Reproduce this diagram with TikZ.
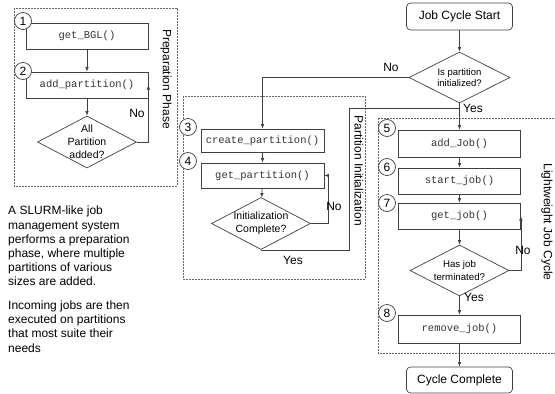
\documentclass[tikz,border=0pt]{standalone}
\usepackage{fontspec}
\setmainfont{Liberation Sans}
\setmonofont{Liberation Mono}
\usetikzlibrary{arrows.meta,shapes.geometric}
\tikzset{
	proc/.style={draw=black!75, line width=0.7pt, minimum width=122pt, minimum height=26pt, inner sep=0pt, text=black!80, font=\ttfamily\fontsize{10.5}{12}\selectfont},
	term/.style={proc, rounded corners=4pt, minimum width=106pt, text=black, font=\fontsize{12}{14}\selectfont},
	decide/.style={diamond, draw=black!75, line width=0.7pt, minimum width=99pt, minimum height=52pt, inner sep=0pt},
	dectext/.style={align=center, inner sep=0pt, font=\fontsize{10.5}{13}\selectfont},
	num/.style={circle, draw=black!75, fill=white, line width=0.7pt, minimum size=17pt, inner sep=0pt, font=\fontsize{12}{12}\selectfont},
	phase/.style={draw=black!60, dash pattern=on 2pt off 1pt, line width=0.5pt},
	flow/.style={draw=black!75, line width=0.7pt, -{Latex[length=4.5pt,width=3.5pt]}},
	link/.style={draw=black!75, line width=0.7pt},
	tag/.style={inner sep=0pt, font=\fontsize{12}{14}\selectfont}
}

\begin{document}
\begin{tikzpicture}[x=1pt, y=-1pt]
			%%%%% START %%%%%
			\useasboundingbox (0, 0) rectangle (555, 394);
			
			% dashed phase frames
			\draw[phase] (14, 8) rectangle (177, 186);
			\draw[phase] (183, 96) rectangle (365, 279);
			\draw[phase] (378, 118) rectangle (600, 353);
			\node[tag, rotate=-90] (prepLbl) at (166, 79) {Preparation Phase};
			\node[tag, rotate=-90] (initLbl) at (359, 171) {Partition Initialization};
			\node[tag, rotate=-90] (cycleLbl) at (547, 222) {Lightweight Job Cycle};
			
			% preparation phase
			\node[proc] (getBGL) at (87, 36) {get\_BGL()};
			\node[proc] (addPart) at (87, 85) {add\_partition()};
			\node[decide] (allAdded) at (87, 142) {};
			\node[dectext] at (allAdded) {All\\Partition\\added?};
			
			% partition initialization
			\node[proc, minimum width=123pt, minimum height=23pt] (createPart) at (262.5, 140.5) {create\_partition()};
			\node[proc, minimum width=123pt, minimum height=25pt] (getPart) at (262.5, 175.5) {get\_partition()};
			\node[decide] (initDone) at (261, 223.5) {};
			\node[dectext] at (initDone) {Initialization\\Complete?};
			
			% job cycle
			\node[term, minimum height=27pt] (cycleStart) at (459.5, 16.5) {Job Cycle Start};
			\node[decide, minimum width=101pt, minimum height=51pt] (isInit) at (459.5, 77.5) {};
			\node[dectext, font=\fontsize{9.5}{11.5}\selectfont] at (isInit) {Is partition\\initialized?};
			\coordinate (merge) at (459.5, 108);
			\node[proc, minimum height=27pt] (addJob) at (459.5, 143.5) {add\_Job()};
			\node[proc] (startJob) at (459.5, 181) {start\_job()};
			\node[proc] (getJob) at (459.5, 216) {get\_job()};
			\node[decide, minimum height=51pt] (jobDone) at (459.5, 270.5) {};
			\node[dectext, font=\fontsize{9.7}{13}\selectfont] at (jobDone) {Has job\\terminated?};
			\node[proc, minimum height=28pt] (removeJob) at (459.5, 329) {remove\_job()};
			\node[term] (cycleEnd) at (459.5, 380) {Cycle Complete};
			
			% connectors
			\draw[flow] (getBGL) -- (addPart);
			\draw[flow] (addPart) -- (allAdded);
			\draw[flow] (allAdded.east) -| (addPart.east);
			\node[tag] (noA) at (137, 113) {No};
			
			\draw[flow] (isInit.west) -| (createPart.north);
			\node[tag] (noB) at (391, 67) {No};
			\draw[flow] (createPart) -- (getPart);
			\draw[flow] (getPart) -- (initDone);
			\draw[flow] (initDone.east) -- ++(17, 0) |- (getPart.east);
			\node[tag] (noC) at (334, 206) {No};
			\draw[link] (initDone.south) -- ++(88, 0) |- (merge);
			\node[tag] (yesC) at (293, 260) {Yes};
			
			\draw[flow] (cycleStart) -- (isInit);
			\draw[flow] (isInit.south) -- (addJob.north);
			\node[tag] (yesB) at (473, 108) {Yes};
			\draw[flow] (addJob) -- (startJob);
			\draw[flow] (startJob) -- (getJob);
			\draw[flow] (getJob) -- (jobDone);
			\draw[flow] (jobDone.east) -| (getJob.east);
			\node[tag] (noD) at (523, 250) {No};
			\draw[flow] (jobDone) -- (removeJob);
			\node[tag] (yesD) at (474, 297) {Yes};
			\draw[flow] (removeJob) -- (cycleEnd);
			
			% step numbers
			\node[num] (n1) at (23, 21) {1};
			\node[num] (n2) at (23, 71) {2};
			\node[num] (n3) at (188, 127) {3};
			\node[num] (n4) at (188, 161) {4};
			\node[num] (n5) at (387, 128) {5};
			\node[num] (n6) at (387, 167) {6};
			\node[num] (n7) at (387, 203) {7};
			\node[num] (n8) at (387, 313) {8};
			
			% description
			\node[anchor=north west, align=left, inner sep=0pt, font=\fontsize{12}{14.2}\selectfont] (about) at (8, 206) {A SLURM-like job\\management system\\performs a preparation\\phase, where multiple\\partitions of various\\sizes are added.\\[9.5pt]Incoming jobs are then\\executed on partitions\\that most suite their\\needs};
			
			%%%%% END %%%%%
\end{tikzpicture}
\end{document}
